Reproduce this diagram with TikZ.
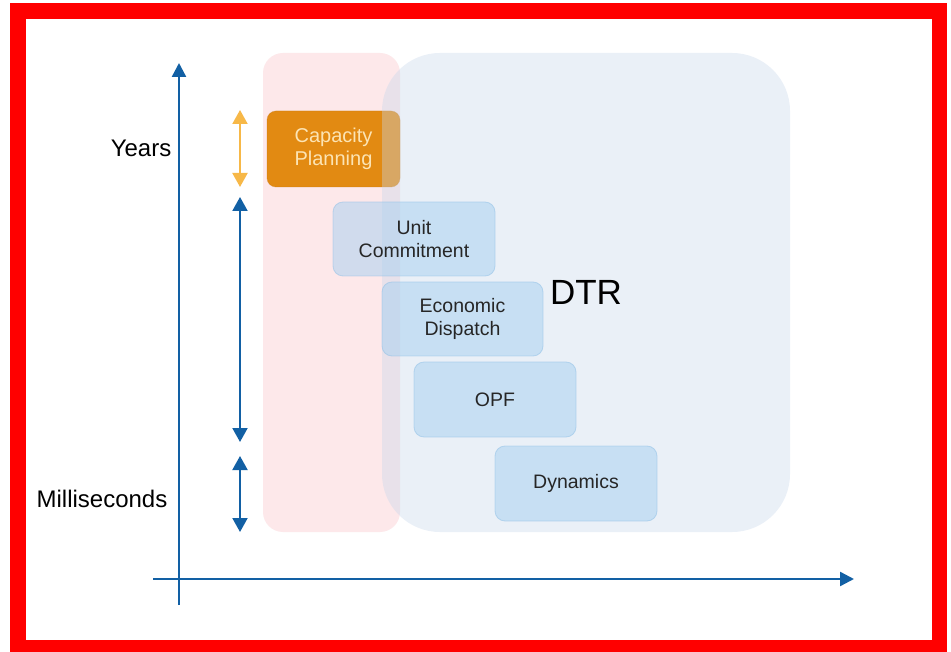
\documentclass[tikz,border=0pt]{standalone}
\usepackage{fontspec}
\setmainfont{Liberation Sans}
\usetikzlibrary{arrows.meta}
\definecolor{axisblue}{RGB}{18,96,164}
\definecolor{yearorange}{RGB}{247,184,72}
\definecolor{capfill}{RGB}{226,138,18}
\definecolor{captext}{RGB}{252,228,180}
\definecolor{pinkbg}{RGB}{250,195,200}
\definecolor{dtrbg}{RGB}{200,216,236}
\definecolor{boxfill}{RGB}{165,208,240}
\definecolor{boxline}{RGB}{140,190,230}
\tikzset{
  axisline/.style={draw=axisblue, line width=2.4pt, -{Triangle[width=14pt,length=14pt]}},
  rangeblue/.style={draw=axisblue, line width=2pt, {Triangle[width=15pt,length=14pt]}-{Triangle[width=15pt,length=14pt]}},
  rangeorange/.style={draw=yearorange, line width=2pt, {Triangle[width=15pt,length=14pt]}-{Triangle[width=15pt,length=14pt]}},
  pinkpanel/.style={fill=pinkbg, fill opacity=0.38, rounded corners=20pt, inner sep=0pt},
  dtrpanel/.style={fill=dtrbg, fill opacity=0.38, rounded corners=58pt, inner sep=0pt},
  capbox/.style={fill=capfill, draw=capfill!85!black, draw opacity=0.3, line width=0.8pt, rounded corners=9pt, inner sep=0pt, text=captext, font=\fontsize{20}{23}\selectfont, align=center},
  levelbox/.style={fill=boxfill, fill opacity=0.5, draw=boxline, draw opacity=0.5, line width=0.8pt, rounded corners=10pt, inner sep=0pt, text opacity=1, text=black!85, font=\fontsize{19.5}{23}\selectfont, align=center},
  axislabel/.style={font=\fontsize{24}{28}\selectfont, text=black, inner sep=0pt},
}
\begin{document}
\begin{tikzpicture}[x=1pt,y=-1pt]
\useasboundingbox (0,0) rectangle (951,652);
% red frame
\fill[white] (0,0) rectangle (951,652);
\fill[red] (10,3) rectangle (947,652);
\fill[white] (26,19) rectangle (932,640);
% panels
\node[pinkpanel, minimum width=137pt, minimum height=479pt] (pink) at (331.5,292.5) {};
\node[capbox, minimum width=133pt, minimum height=76pt] (cap) at (333.5,149) {Capacity\\Planning};
\node[dtrpanel, minimum width=408pt, minimum height=479pt] (dtr) at (586,292.5) {};
\node[font=\fontsize{35}{40}\selectfont, inner sep=0pt] (dtrlabel) at (586,292) {DTR};
% level boxes
\node[levelbox, minimum width=162pt, minimum height=74pt] (uc) at (414,239) {Unit\\Commitment};
\node[levelbox, minimum width=161pt, minimum height=74pt] (ed) at (462.5,319) {Economic\\Dispatch};
\node[levelbox, minimum width=162pt, minimum height=75pt] (opf) at (495,399.5) {OPF};
\node[levelbox, minimum width=162pt, minimum height=75pt] (dyn) at (576,483.5) {Dynamics};
% axes
\coordinate (vbot) at (179,605);
\coordinate (vtop) at (179,63);
\coordinate (hleft) at (153,579);
\coordinate (hright) at (854,579);
\draw[axisline] (vbot) -- (vtop);
\draw[axisline] (hleft) -- (hright);
% range arrows
\coordinate (y1) at (240,110);
\coordinate (y2) at (240,187);
\coordinate (b1) at (240,197);
\coordinate (b2) at (240,442);
\coordinate (m1) at (240,456);
\coordinate (m2) at (240,532);
\draw[rangeorange] (y1) -- (y2);
\draw[rangeblue] (b1) -- (b2);
\draw[rangeblue] (m1) -- (m2);
% labels
\node[axislabel] (years) at (141,148) {Years};
\node[axislabel] (ms) at (102,499) {Milliseconds};
\end{tikzpicture}
\end{document}
